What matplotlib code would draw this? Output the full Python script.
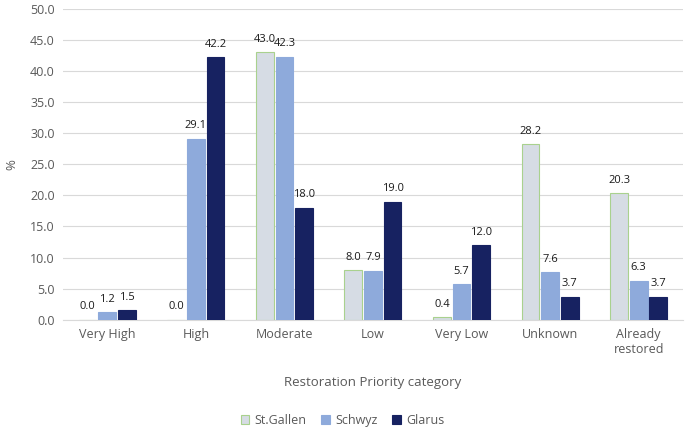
import matplotlib.pyplot as plt
import numpy as np

categories = ["Very High", "High", "Moderate", "Low", "Very Low", "Unknown", "Already\nrestored"]
st_gallen = [0.0, 0.0, 43.0, 8.0, 0.4, 28.2, 20.3]
schwyz = [1.2, 29.1, 42.3, 7.9, 5.7, 7.6, 6.3]
glarus = [1.5, 42.2, 18.0, 19.0, 12.0, 3.7, 3.7]

series = [("St.Gallen", st_gallen, "#d6dce4", "#a9d18e"),
          ("Schwyz", schwyz, "#8eaadb", "#8eaadb"),
          ("Glarus", glarus, "#172261", "#172261")]

plt.rcParams['font.family'] = ['Open Sans', 'DejaVu Sans']

fig = plt.figure(figsize=(6.85, 4.38), dpi=100)
ax = fig.add_axes([0.092, 0.27, 0.905, 0.71])

x = np.arange(len(categories))
w = 0.2
gap = 0.022
for i, (name, vals, fc, ec) in enumerate(series):
    pos = x + (i - 1) * (w + gap)
    ax.bar(pos, vals, w, color=fc, edgecolor=ec, linewidth=0.8, label=name, zorder=3)
    for xp, v in zip(pos, vals):
        ax.text(xp, v + 1.2, f"{v:.1f}", ha="center", va="bottom", fontsize=8, color="#1a1a1a")

ax.set_ylim(0, 50)
ax.set_yticks(np.arange(0, 51, 5))
ax.set_yticklabels([f"{v:.1f}" for v in np.arange(0, 51, 5)])
ax.set_xlim(-0.5, len(categories) - 0.5)
ax.set_xticks(x)
ax.set_xticklabels(categories)
ax.tick_params(axis="both", length=0, labelsize=9, colors="#595959", pad=6)
ax.grid(axis="y", color="#d9d9d9", lw=0.8, zorder=0)
for s in ["top", "right", "left"]:
    ax.spines[s].set_visible(False)
ax.spines["bottom"].set_color("#d9d9d9")

ax.set_ylabel("%", fontsize=9.5, color="#595959", labelpad=8)
ax.set_xlabel("Restoration Priority category", fontsize=9.5, color="#595959", labelpad=14)

fig.legend(loc="lower center", bbox_to_anchor=(0.5, 0.0), ncol=3, frameon=False,
           fontsize=9, handlelength=0.7, handleheight=0.7, handletextpad=0.4,
           columnspacing=1.2, labelcolor="#595959")

fig.savefig("out.png", dpi=100)
